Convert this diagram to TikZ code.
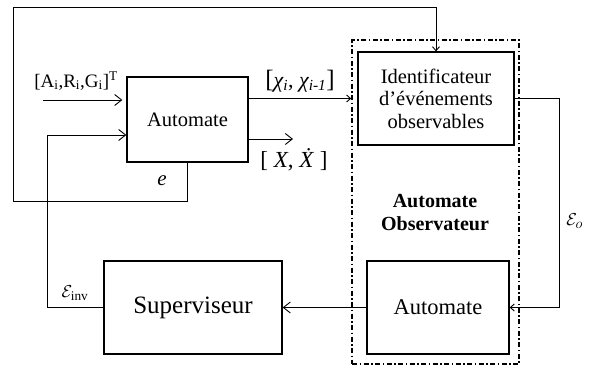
\documentclass[tikz,border=0pt]{standalone}
\usepackage{fontspec}
\setmainfont{Liberation Serif}
\usetikzlibrary{arrows.meta}
\begin{document}
\begin{tikzpicture}[x=1pt,y=-1pt, line width=0.9pt,
  box/.style={draw, line width=1.3pt, inner sep=0pt, align=center},
  big/.style={-{Straight Barb[length=7pt,width=11pt,line width=0.9pt]}},
  small/.style={-{Straight Barb[length=4pt,width=7pt,line width=0.9pt]}},
  lbl/.style={inner sep=0pt, font=\fontsize{19}{22}\selectfont}]
\useasboundingbox (0,0) rectangle (590,368);
\clip (0,0) rectangle (590,368);

\node[box, minimum width=121pt, minimum height=85pt, font=\fontsize{20.5}{22}\selectfont] (aut) at (187.5,119.5) {Automate};
\node[box, minimum width=156pt, minimum height=93pt, font=\fontsize{20.5}{22.5}\selectfont] (id) at (436,98.5) {Identificateur\\d’événements\\observables};
\node[box, minimum width=142pt, minimum height=93pt, font=\fontsize{22.5}{24}\selectfont] (aobs) at (438,307.5) {Automate};
\node[box, minimum width=178pt, minimum height=93pt, font=\fontsize{25}{26}\selectfont] (sup) at (193,307.5) {Superviseur};
\node[draw, line width=1.5pt, dash pattern=on 5pt off 2.5pt on 1.5pt off 2.5pt, minimum width=167pt, minimum height=324pt, inner sep=0pt] (dash) at (435.5,202) {};
\node[inner sep=0pt, align=center, font=\fontsize{20}{23}\selectfont\bfseries] (title) at (435,213) {Automate\\Observateur};

\coordinate (in) at (43,100);
\draw[big, shorten >=4pt] (in) -- (aut.west |- in);
\node[lbl] (inl) at (76,81) {[A\textsubscript{i},R\textsubscript{i},G\textsubscript{i}]\textsuperscript{T}};

\draw[small] (aut.east |- id.center) -- (dash.west |- id.center);
\node[lbl, font=\fontsize{22}{24}\selectfont] (xl) at (300,81) {{\fontsize{25}{26}\selectfont[}\textit{χ\textsubscript{i}}, \textit{χ\textsubscript{i-1}}{\fontsize{25}{26}\selectfont]}};

\coordinate (xout) at (293,139);
\draw[big] (aut.east |- xout) -- (xout);
\node[lbl, font=\fontsize{23}{24}\selectfont] (xdl) at (294,160) {[ \textit{X}, \textit{\.X} ]};

\draw[small] (aut.south) |- (13,201) |- (id.north |- 0,7) -- (id.north);
\node[lbl, font=\fontsize{21}{22}\selectfont\itshape] (el) at (162,181) {e};

\draw[small] (id.east) -- ++(45,0) |- (aobs.east);
\node[lbl, anchor=west] (eo) at (566,221) {$\mathcal{E}_{o}$};

\draw[big] (aobs.west) -- (sup.east);

\coordinate (fb) at (47,135);
\draw[big] (sup.west) -| (fb) -- (aut.west |- fb);
\node[lbl] (einv) at (75,293) {$\mathcal{E}_{\mathrm{inv}}$};
\end{tikzpicture}
\end{document}
